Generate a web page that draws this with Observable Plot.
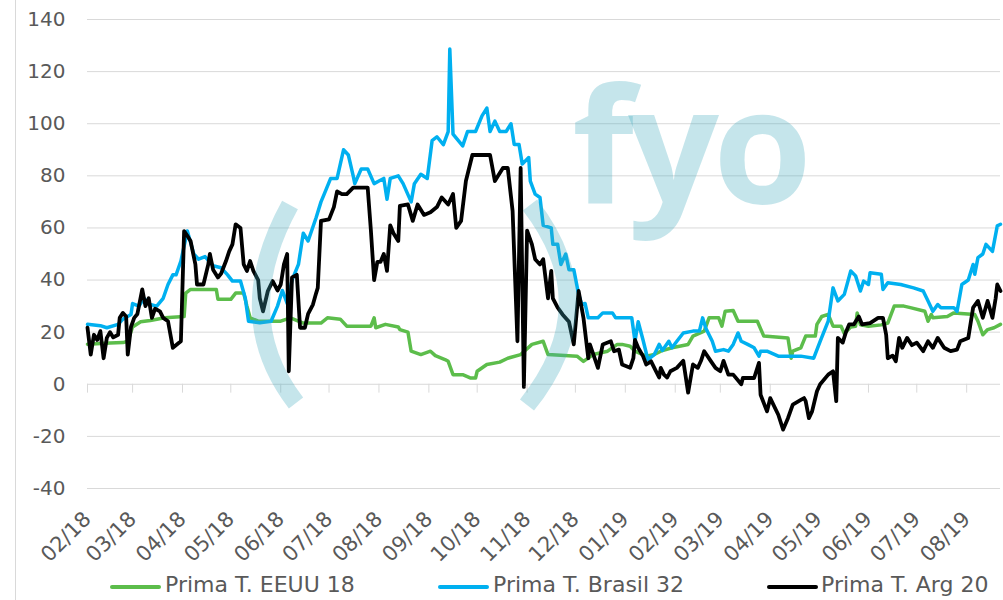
<!DOCTYPE html>
<html>
<head>
<meta charset="utf-8">
<script src="https://cdn.jsdelivr.net/npm/d3@7"></script>
<script src="https://cdn.jsdelivr.net/npm/@observablehq/plot@0.6"></script>
<style>
  html, body { margin: 0; padding: 0; background: #fff; }
  #wrap { position: relative; width: 1003px; height: 600px; overflow: hidden; font-family: "DejaVu Sans", Verdana, sans-serif; }
  #border { position: absolute; left: 15px; top: 0; width: 1px; height: 600px; background: #d9d9d9; }
  #chart { position: absolute; left: 0; top: 0; }
  #legend { position: absolute; left: 0; top: 570px; width: 1003px; height: 30px; }
  .item { position: absolute; top: 0; height: 30px; line-height: 30px; font-size: 22px; color: #595959; white-space: nowrap; }
  .sw { position: absolute; top: 15px; height: 4px; border-radius: 2px; }
  #wm { position: absolute; left: 0; top: 0; pointer-events: none; }
</style>
</head>
<body>
<div id="wrap">
  <div id="border"></div>
  <div id="chart"></div>
  <div id="legend"></div>
  <svg id="wm" width="1003" height="600"></svg>
</div>
<script>
// ---- Data (days since 2018-02-01, value) ----
const startDate = "2018-02-01";
const endDay = 567;
const yTicks = [-40, -20, 0, 20, 40, 60, 80, 100, 120, 140];
const seriesNames = ["Prima T. EEUU 18", "Prima T. Brasil 32", "Prima T. Arg 20"];
const seriesColors = ["#5cbd4b", "#00b0f0", "#000000"];

const eeuu = [[0,15.4],[14,15.8],[22,16],[25,16.5],[28,22],[33,24],[39,24.5],[48,25.5],[60,26],[61,35],[64,36.4],[80,36.4],[81,32.6],[89,32.6],[92,35],[97,35],[99,30],[101,25.5],[106,24.2],[120,24.2],[126,25.5],[134,23.5],[145,23.5],[149,25.5],[157,25],[161,22.3],[176,22.3],[178,25.5],[179,21.7],[185,23],[193,22],[194,21],[199,20],[201,12.7],[207,11.4],[213,12.7],[216,11],[222,9.5],[224,8.8],[227,3.7],[233,3.7],[238,2.4],[241,2.4],[242,5],[248,7.6],[256,8.5],[261,10],[269,11.4],[276,15.3],[283,16.5],[286,11.4],[304,10.8],[308,8.8],[314,11.4],[323,12.7],[329,15.3],[332,15.3],[337,14.6],[340,12.7],[347,10.8],[352,11.4],[356,12.7],[363,14],[373,15.3],[376,18.5],[383,20.4],[386,25.5],[392,25.5],[394,22.3],[396,28],[401,28.3],[404,24.2],[416,24.2],[420,18.5],[435,17.8],[437,10],[438,12.7],[443,14],[446,18.5],[452,18.5],[453,23],[456,26],[460,26.8],[463,22.3],[468,22.3],[470,19.5],[474,22],[477,22.3],[478,27.4],[480,22.8],[485,22.3],[493,22.8],[497,23.5],[501,30],[507,30],[511,29.4],[520,28],[522,24.2],[524,26.8],[525,25.5],[534,26],[538,27.4],[551,26.8],[553,24.2],[556,19],[559,21],[563,21.7],[567,23]];

const brasil = [[0,23],[8,22.5],[12,21.7],[19,23],[22,25],[27,26.8],[28,31],[32,30],[35,33],[39,30.6],[43,30],[47,33],[50,38.3],[53,42],[55,42],[58,47.3],[62,58.8],[66,50],[69,48],[73,49],[78,45.5],[83,44.7],[87,42],[90,39.6],[95,39.6],[98,33],[100,24.2],[107,23.6],[114,24.2],[118,30],[121,36],[124,31],[127,40],[131,46],[134,58],[137,55],[142,64],[145,70],[147,73],[151,79],[155,79],[159,90],[162,88],[165,80],[166,77],[170,82.6],[174,82.6],[178,77],[181,78],[184,79],[186,71],[188,79],[193,80],[196,77],[201,70],[203,77],[207,80.6],[211,79],[214,93.5],[217,95],[221,92],[224,97],[225,128.7],[227,96],[233,91.5],[236,97],[241,97],[245,103],[248,106],[250,97],[253,101],[256,97],[260,97],[263,100],[265,92],[268,92],[270,84.5],[274,87],[275,78],[278,73],[281,71.7],[283,61],[288,60],[289,53.7],[292,53.7],[294,46],[297,50],[299,44],[302,44],[305,34.5],[307,30.6],[309,31],[311,25.5],[317,25.5],[320,27.4],[326,27.4],[328,25.5],[338,25.5],[340,16.5],[342,24],[345,17],[348,9.5],[352,11.4],[355,15.3],[357,13],[361,16.5],[363,14],[366,16.5],[370,19.7],[376,20.4],[380,20.4],[382,25.5],[384,21.5],[386,19],[388,16.5],[390,12.7],[395,13.3],[398,12.7],[401,15.3],[404,19.7],[406,16.5],[410,15.3],[414,14],[417,10.8],[418,12.7],[422,12.7],[429,10.8],[443,10.8],[451,10],[455,16.5],[460,24.2],[463,37],[466,32],[470,34.5],[474,43.5],[477,41.6],[480,35.8],[482,39.6],[485,38.3],[486,42.8],[493,42.2],[494,36.4],[497,39],[505,38.3],[513,37],[519,35.8],[522,32],[525,28],[528,30.6],[530,29.4],[538,29.4],[540,28],[543,38.3],[547,40],[550,46],[551,42.2],[553,48.6],[556,50],[558,53.7],[562,51],[565,60.8],[567,61.4]];

const arg = [[0,21.7],[2,11.4],[4,19],[6,17],[8,20.4],[10,10],[12,17.8],[14,20],[16,18],[19,19],[20,25.5],[22,27.4],[24,26],[25,11.4],[27,22],[29,25.5],[31,27],[34,36.4],[36,30],[38,33],[40,25.5],[42,29],[45,28],[47,25.5],[50,24.2],[53,14],[57,16],[58,16.5],[60,58.8],[62,57],[64,55],[67,46],[68,38.3],[72,38.3],[75,46],[76,50],[78,44],[81,41],[83,42.5],[86,47.3],[88,51],[90,53.7],[92,61.4],[95,60],[97,46],[99,43.5],[101,47.3],[103,43.5],[106,40],[107,33],[109,28],[112,35.8],[115,39.6],[118,36],[120,38.3],[122,46],[124,50],[125,5],[127,41],[130,42],[132,21.7],[135,21.7],[137,27],[140,30.6],[142,35],[143,37],[145,62.7],[150,63.3],[153,68],[155,74],[158,73],[161,73],[165,75.5],[174,75.5],[176,59],[178,40],[180,47],[182,47],[184,50],[186,43.5],[188,61],[190,58],[193,55],[194,68.5],[199,69],[202,62.7],[205,69],[209,65],[213,66],[217,68],[220,71.7],[224,69],[227,73],[229,60],[232,62.7],[235,78],[239,88],[250,88],[253,78],[255,80],[258,83],[261,83],[264,66.5],[267,16.5],[269,83],[271,-1],[273,59],[276,53.7],[278,48],[281,46],[283,48],[286,33],[288,43.5],[289,33],[292,29.4],[295,26.8],[299,24],[302,15.3],[305,35.8],[308,25.5],[311,10],[312,15.3],[317,6.3],[320,15.3],[325,16.5],[327,12.7],[330,13.3],[332,7.6],[337,6.3],[339,10],[340,17],[342,14],[345,10.8],[347,7.6],[350,8.8],[352,6.3],[355,2.6],[356,6.3],[358,3.7],[360,2.6],[362,5],[366,6.3],[370,9],[373,-3.2],[376,7.6],[379,6.3],[381,9],[383,12.7],[387,9],[390,6.3],[393,5],[395,9],[398,3.7],[401,3.7],[406,0],[407,2.4],[414,2.4],[417,8.2],[418,-4],[422,-10.4],[424,-5.3],[429,-11.7],[432,-17.4],[435,-13],[438,-7.8],[443,-6],[445,-5.3],[446,-6.5],[448,-13],[450,-10.4],[453,-2.7],[455,0],[460,3.7],[463,5],[465,-6.5],[466,17.8],[469,16],[471,20],[473,23],[476,23],[479,26],[481,23],[486,23.5],[491,25.5],[494,25.5],[496,19],[497,10],[500,11],[502,8.8],[504,17.8],[506,14],[509,17.8],[512,15],[515,16],[519,12.7],[522,16.5],[525,14],[528,17.8],[532,14],[536,12.7],[540,13.3],[542,16.5],[547,17.8],[548,21.7],[550,29.4],[553,32],[556,25.5],[559,32],[562,25.5],[564,33],[565,38.3],[567,35.8]];

// ---- Build tables ----
const t0 = new Date(startDate + "T00:00:00Z");
const toDate = d => d3.utcDay.offset(t0, d);
const rows = (arr, name) => arr.map(([d, v]) => ({date: toDate(d), value: v, series: name}));
const data = [
  rows(eeuu, seriesNames[0]),
  rows(brasil, seriesNames[1]),
  rows(arg, seriesNames[2])
];
const xDomain = [t0, toDate(endDay)];
const months = d3.utcMonth.range(t0, d3.utcMonth.offset(toDate(endDay), 1)).filter(m => m <= toDate(endDay));

const chart = Plot.plot({
  width: 1003,
  height: 570,
  marginLeft: 87,
  marginRight: 3,
  marginTop: 19,
  marginBottom: 82,
  style: {fontFamily: "DejaVu Sans, Verdana, sans-serif", fontSize: "20px", color: "#595959", background: "transparent"},
  x: {type: "utc", domain: xDomain, label: null},
  y: {domain: [-40, 140], label: null},
  marks: [
    Plot.gridY(yTicks, {stroke: "#d9d9d9", strokeOpacity: 1, strokeWidth: 1}),
    Plot.ruleX(months, {x: d => d, y1: 0, y2: -3.4, stroke: "#d9d9d9", strokeWidth: 1}),
    Plot.axisY(yTicks, {tickSize: 0, tickPadding: 22, fontSize: 20, fill: "#595959", label: null, tickFormat: d => String(d)}),
    Plot.axisX(months, {tickSize: 0, tickPadding: 27, tickRotate: -45, tickFormat: d3.utcFormat("%m/%y"), fontSize: 21, fill: "#595959", label: null}),
    ...data.map((rs, i) => Plot.line(rs, {x: "date", y: "value", stroke: seriesColors[i], strokeWidth: i === 2 ? 3.8 : 3.5, strokeLinejoin: "round"}))
  ]
});
document.getElementById("chart").appendChild(chart);

// ---- Legend ----
const legend = document.getElementById("legend");
const legendPos = [[110, 165], [438, 493], [767, 821]];
seriesNames.forEach((name, i) => {
  const sw = document.createElement("div");
  sw.className = "sw";
  sw.style.left = legendPos[i][0] + "px";
  sw.style.width = "51px";
  sw.style.background = seriesColors[i];
  legend.appendChild(sw);
  const it = document.createElement("div");
  it.className = "item";
  it.style.left = legendPos[i][1] + "px";
  it.textContent = name;
  legend.appendChild(it);
});

// ---- Watermark (logo overlay) ----
const wm = d3.select("#wm");
const wmColor = "rgba(63,169,189,0.3)";
wm.append("text").attr("x", 572).attr("y", 203)
  .attr("font-family", "Open Sans").attr("font-weight", 700).attr("font-size", 160)
  .attr("letter-spacing", -6).attr("fill", wmColor).text("fyo");
wm.append("path").attr("d", "M290,205 Q229,316 296,403").attr("fill", "none").attr("stroke", wmColor).attr("stroke-width", 18);
wm.append("path").attr("d", "M530,205 Q607,305 527,405").attr("fill", "none").attr("stroke", wmColor).attr("stroke-width", 18);
</script>
</body>
</html>
